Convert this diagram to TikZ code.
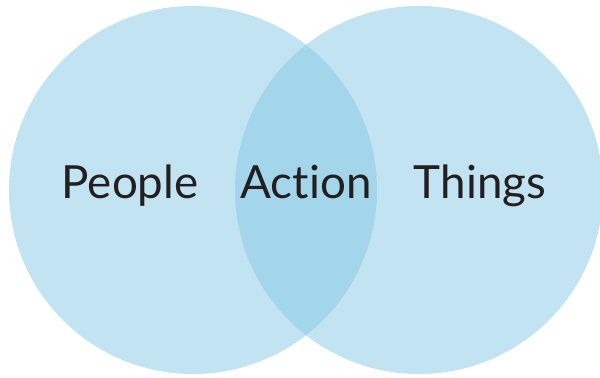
\documentclass[tikz,border=0pt]{standalone}
\usepackage{fontspec}
\setmainfont{Lato}[Ligatures={NoCommon,NoRare}]
\usepackage{tikz}
\definecolor{vennblue}{RGB}{133,199,229}
\definecolor{labelgray}{RGB}{35,31,32}

\begin{document}
\begin{tikzpicture}[line cap=round,line join=round,x=0.5mm,y=-0.5mm,
    venn/.style={fill=vennblue,fill opacity=0.5},
    word/.style={anchor=base,text=labelgray,font=\fontsize{65}{76}\selectfont}]
        \useasboundingbox (0,0) rectangle (600,377);
        \clip (0,0) rectangle (600,377);
        \fill [venn] (193,190) circle (184);
        \fill [venn] (419,190) circle (184);
        \node [word] (people) at (130,198) {People};
        \node [word] (action) at (306,198) {Action};
        \node [word] (things) at (480,198) {Things};
    \end{tikzpicture}
\end{document}
